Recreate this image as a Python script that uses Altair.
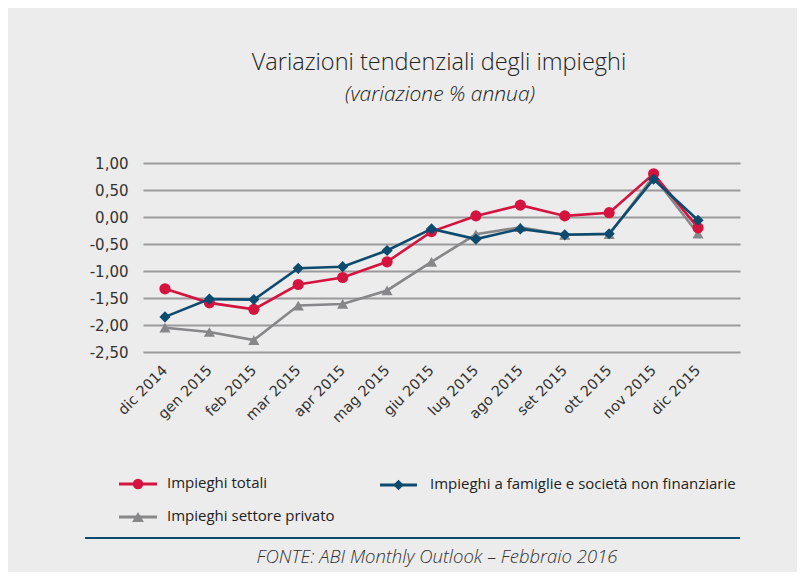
import altair as alt
import pandas as pd

months = ["dic 2014", "gen 2015", "feb 2015", "mar 2015", "apr 2015", "mag 2015",
          "giu 2015", "lug 2015", "ago 2015", "set 2015", "ott 2015", "nov 2015", "dic 2015"]
totali = [-1.33, -1.59, -1.71, -1.25, -1.12, -0.83, -0.27, 0.02, 0.22, 0.02, 0.08, 0.80, -0.20]
famiglie = [-1.85, -1.52, -1.53, -0.95, -0.92, -0.62, -0.22, -0.41, -0.22, -0.33, -0.31, 0.70, -0.06]
privato = [-2.05, -2.13, -2.28, -1.64, -1.61, -1.36, -0.83, -0.32, -0.19, -0.33, -0.32, 0.75, -0.31]

series_names = ["Impieghi totali", "Impieghi a famiglie e società non finanziarie", "Impieghi settore privato"]
series_colors = ["#d4143f", "#0d4b6e", "#87878a"]
series_shapes = ["circle", "diamond", "triangle-up"]

title_text = "Variazioni tendenziali degli impieghi"
subtitle_text = "(variazione % annua)"
source_text = "FONTE: ABI Monthly Outlook – Febbraio 2016"

FONT = "Open Sans"
AXFONT = "DejaVu Sans"

rows = []
for name, vals in zip(series_names, [totali, famiglie, privato]):
    for i, (m, v) in enumerate(zip(months, vals)):
        rows.append({"idx": i, "mese": m, "serie": name, "valore": v})
df = pd.DataFrame(rows)

label_expr = "[" + ",".join("'%s'" % m for m in months) + "][datum.value]"

x_enc = alt.X("idx:Q",
              scale=alt.Scale(domain=[-0.495, 12.945], nice=False, zero=False),
              axis=alt.Axis(values=list(range(len(months))), labelExpr=label_expr,
                            labelAngle=-45, labelAlign="right", labelBaseline="middle",
                            labelFontSize=14.5, labelFont=AXFONT, labelColor="#333333",
                            labelPadding=16, labelOverlap=False, labelBound=False,
                            ticks=False, domain=False, grid=False,
                            title=None))
y_enc = alt.Y("valore:Q",
              scale=alt.Scale(domain=[-2.5, 1.0], nice=False, zero=False),
              axis=alt.Axis(values=[1.0, 0.5, 0.0, -0.5, -1.0, -1.5, -2.0, -2.5],
                            labelExpr="replace(replace(format(datum.value, '.2f'), '.', ','), '\u2212', '-')",
                            labelFontSize=15, labelFont=AXFONT, labelColor="#333333",
                            labelPadding=15, labelOverlap=False, ticks=False, domain=False,
                            grid=True, gridColor="#9a9a9c", gridWidth=2,
                            title=None))

color_scale = alt.Scale(domain=series_names, range=series_colors)
shape_scale = alt.Scale(domain=series_names, range=series_shapes)
size_scale = alt.Scale(domain=series_names, range=[125, 125, 150])

layers = []
for name in [series_names[2], series_names[0], series_names[1]]:
    sub = df[df["serie"] == name]
    c = alt.Chart(sub)
    layers.append(c.mark_line(strokeWidth=2.6).encode(
        x=x_enc, y=y_enc,
        color=alt.Color("serie:N", scale=color_scale, legend=None)))
    layers.append(c.mark_point(filled=True, opacity=1).encode(
        x=x_enc, y=y_enc,
        color=alt.Color("serie:N", scale=color_scale, legend=None),
        shape=alt.Shape("serie:N", scale=shape_scale, legend=None),
        size=alt.Size("serie:N", scale=size_scale, legend=None)))

# Titles (plot origin at page (143,163))
title = alt.Chart(pd.DataFrame({"t": [title_text]})).mark_text(
    font=FONT, fontSize=23.5, fontWeight=300, color="#222222", align="center", baseline="alphabetic"
).encode(text="t:N", x=alt.value(296), y=alt.value(-93))
subtitle = alt.Chart(pd.DataFrame({"t": [subtitle_text]})).mark_text(
    font=FONT, fontSize=21, fontWeight=300, fontStyle="italic", color="#222222",
    align="center", baseline="alphabetic"
).encode(text="t:N", x=alt.value(297), y=alt.value(-62))

# Custom legend
leg_x1 = [-24, 237, -24]
leg_x2 = [14, 274, 14]
leg_y = [321, 322, 354]
leg_tx = [24, 287, 24]
legend_layers = []
for i, name in enumerate(series_names):
    d = pd.DataFrame({"s": [name]})
    legend_layers.append(alt.Chart(d).mark_rule(strokeWidth=3, color=series_colors[i]).encode(
        x=alt.value(leg_x1[i]), x2=alt.value(leg_x2[i]), y=alt.value(leg_y[i])))
    legend_layers.append(alt.Chart(d).mark_point(filled=True, opacity=1, size=110 if i < 2 else 140,
                                                 shape=series_shapes[i], color=series_colors[i]).encode(
        x=alt.value((leg_x1[i] + leg_x2[i]) / 2), y=alt.value(leg_y[i])))
    legend_layers.append(alt.Chart(d).mark_text(font=FONT, fontSize=15, color="#222222",
                                                align="left", baseline="middle").encode(
        text="s:N", x=alt.value(leg_tx[i]), y=alt.value(leg_y[i] - 1)))

sep = alt.Chart(pd.DataFrame({"a": [0]})).mark_rule(strokeWidth=2, color="#0d4b6e").encode(
    x=alt.value(-58), x2=alt.value(597), y=alt.value(375))
source = alt.Chart(pd.DataFrame({"t": [source_text]})).mark_text(
    font=FONT, fontSize=18.5, fontStyle="italic", fontWeight=300, color="#333333",
    align="center", baseline="alphabetic"
).encode(text="t:N", x=alt.value(294), y=alt.value(400))

chart = alt.layer(*layers, title, subtitle, *legend_layers, sep, source).properties(
    width=597, height=189,
    background="#ececec",
    padding={"left": 135, "top": 155, "right": 57, "bottom": 220},
    autosize=alt.AutoSizeParams(type="none"),
).configure_view(stroke=None)

chart.save("out.html", embed_options={"renderer": "svg", "actions": False})
